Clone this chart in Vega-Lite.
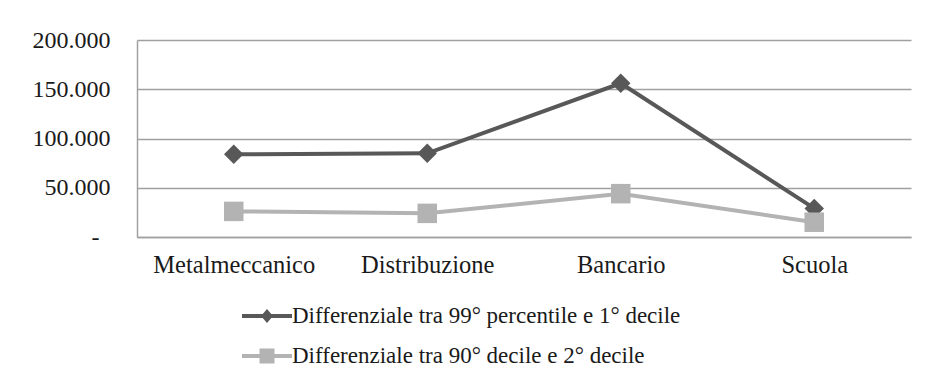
{
  "$schema": "https://vega.github.io/schema/vega-lite/v6.json",
  "width": 774,
  "height": 197,
  "autosize": {"type": "none"},
  "padding": {"left": 137, "top": 40, "right": 16, "bottom": 148},
  "background": "white",
  "config": {
    "view": {"stroke": null},
    "font": "Liberation Serif"
  },
  "data": {
    "values": [
      {"settore": "Metalmeccanico", "serie": "Differenziale tra 99° percentile e 1° decile", "valore": 84000},
      {"settore": "Distribuzione", "serie": "Differenziale tra 99° percentile e 1° decile", "valore": 85000},
      {"settore": "Bancario", "serie": "Differenziale tra 99° percentile e 1° decile", "valore": 156000},
      {"settore": "Scuola", "serie": "Differenziale tra 99° percentile e 1° decile", "valore": 29000},
      {"settore": "Metalmeccanico", "serie": "Differenziale tra 90° decile e 2° decile", "valore": 26000},
      {"settore": "Distribuzione", "serie": "Differenziale tra 90° decile e 2° decile", "valore": 24000},
      {"settore": "Bancario", "serie": "Differenziale tra 90° decile e 2° decile", "valore": 44000},
      {"settore": "Scuola", "serie": "Differenziale tra 90° decile e 2° decile", "valore": 15000}
    ]
  },
  "encoding": {
    "x": {
      "field": "settore",
      "type": "nominal",
      "sort": ["Metalmeccanico", "Distribuzione", "Bancario", "Scuola"],
      "scale": {"type": "point", "padding": 0.5},
      "axis": {
        "title": null,
        "labelAngle": 0,
        "ticks": false,
        "tickSize": 0,
        "labelPadding": 16,
        "labelFont": "Liberation Serif",
        "labelFontSize": 24.5,
        "labelColor": "#1a1a1a",
        "domainColor": "#a0a0a0",
        "domainWidth": 1.5,
        "grid": false
      }
    },
    "y": {
      "field": "valore",
      "type": "quantitative",
      "scale": {"domain": [0, 200000], "nice": false},
      "axis": {
        "title": null,
        "values": [0, 50000, 100000, 150000, 200000],
        "labelExpr": "datum.value === 0 ? '-' : replace(format(datum.value, ','), ',', '.')",
        "ticks": false,
        "tickSize": 0,
        "labelPadding": {"condition": {"test": "datum.value === 0", "value": 38}, "value": 27},
        "labelFont": "Liberation Serif",
        "labelFontSize": 24,
        "labelColor": "#1a1a1a",
        "domainColor": "#a0a0a0",
        "domainWidth": 1.5,
        "gridColor": "#a0a0a0",
        "gridWidth": 1.5
      }
    }
  },
  "layer": [
    {
      "transform": [{"filter": "datum.serie === 'Differenziale tra 99° percentile e 1° decile'"}],
      "mark": {"type": "line", "strokeWidth": 4, "color": "#585858"}
    },
    {
      "transform": [{"filter": "datum.serie === 'Differenziale tra 90° decile e 2° decile'"}],
      "mark": {"type": "line", "strokeWidth": 4, "color": "#b3b3b3"}
    },
    {
      "transform": [{"filter": "datum.serie === 'Differenziale tra 99° percentile e 1° decile'"}],
      "mark": {"type": "point", "shape": "diamond", "filled": true, "opacity": 1, "size": 380, "color": "#585858"}
    },
    {
      "transform": [{"filter": "datum.serie === 'Differenziale tra 90° decile e 2° decile'"}],
      "mark": {"type": "point", "shape": "square", "filled": true, "opacity": 1, "size": 380, "color": "#b3b3b3"}
    },
    {
      "mark": {"type": "point", "filled": true, "opacity": 0, "size": 2500},
      "encoding": {
        "color": {
          "field": "serie",
          "type": "nominal",
          "scale": {
            "domain": ["Differenziale tra 99° percentile e 1° decile", "Differenziale tra 90° decile e 2° decile"],
            "range": ["#585858", "#b3b3b3"]
          },
          "legend": {
            "orient": "none",
            "legendX": 105,
            "legendY": 264,
            "direction": "vertical",
            "title": null,
            "padding": 0,
            "labelFont": "Liberation Serif",
            "labelFontSize": 23,
            "labelColor": "#1a1a1a",
            "labelLimit": 700,
            "labelOffset": 0,
            "symbolSize": 2500,
            "symbolOpacity": 1,
            "symbolStrokeWidth": 0,
            "clipHeight": 24,
            "rowPadding": 16
          }
        },
        "shape": {
          "field": "serie",
          "type": "nominal",
          "scale": {
            "domain": ["Differenziale tra 99° percentile e 1° decile", "Differenziale tra 90° decile e 2° decile"],
            "range": [
              "M-1,-0.08H1V0.08H-1Z M0,-0.28L0.24,0L0,0.28L-0.24,0Z",
              "M-1,-0.08H1V0.08H-1Z M-0.3,-0.3H0.3V0.3H-0.3Z"
            ]
          },
          "legend": {
            "orient": "none",
            "legendX": 105,
            "legendY": 264,
            "direction": "vertical",
            "title": null,
            "padding": 0,
            "labelFont": "Liberation Serif",
            "labelFontSize": 23,
            "labelColor": "#1a1a1a",
            "labelLimit": 700,
            "labelOffset": 0,
            "symbolSize": 2500,
            "symbolOpacity": 1,
            "symbolStrokeWidth": 0,
            "clipHeight": 24,
            "rowPadding": 16
          }
        }
      }
    }
  ]
}
